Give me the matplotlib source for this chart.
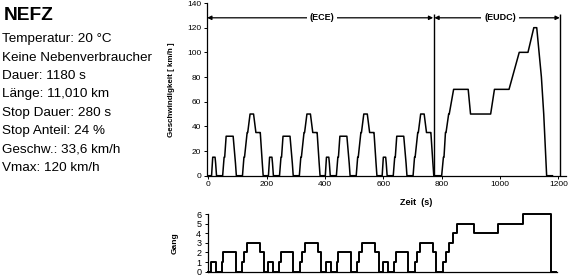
import numpy as np
import matplotlib
matplotlib.use("Agg")
import matplotlib.pyplot as plt

plt.rcParams['font.family'] = ['Liberation Sans', 'DejaVu Sans']

# ECE-Zyklus (wird 4x gefahren), Zeit relativ zum Zyklusbeginn
ece_t = [0, 11, 15, 23, 25, 28, 49, 54, 56, 61, 85, 93, 96, 117, 122, 124, 133, 135,
         143, 155, 163, 176, 178, 185, 188, 195]
ece_v = [0, 0, 15, 15, 10, 0, 0, 15, 15, 32, 32, 10, 0, 0, 15, 15, 35, 35,
         50, 50, 35, 35, 35, 10, 0, 0]
ece_len = 195
n_ece = 4

# EUDC, Zeit relativ zum EUDC-Beginn (780 s)
eudc_t = [0, 20, 26, 28, 33, 35, 44, 46, 61, 111, 119, 188, 201, 251, 286, 316, 336,
          346, 362, 370, 380, 400]
eudc_v = [0, 0, 15, 15, 35, 35, 50, 50, 70, 70, 50, 50, 70, 70, 100, 100, 120,
          120, 80, 50, 0, 0]

# Gang (Stufen, gilt ab dem Zeitpunkt)
ece_gear_t = [0, 11, 28, 49, 54, 96, 117, 124, 135, 178, 190, 195]
ece_gear = [0, 1, 0, 1, 2, 0, 1, 2, 3, 2, 0, 0]
eudc_gear_t = [0, 20, 28, 39, 51, 65, 122, 206, 291, 385, 400]
eudc_gear = [0, 1, 2, 3, 4, 5, 4, 5, 6, 0, 0]

info = ["Temperatur: 20 °C", "Keine Nebenverbraucher", "Dauer: 1180 s",
        "Länge: 11,010 km", "Stop Dauer: 280 s", "Stop Anteil: 24 %",
        "Geschw.: 33,6 km/h", "Vmax: 120 km/h"]

# Zeitreihen zusammensetzen
t_speed, v_speed, t_gear, g_gear = [], [], [], []
for k in range(n_ece):
    t_speed += [t + k * ece_len for t in ece_t]
    v_speed += ece_v
    t_gear += [t + k * ece_len for t in ece_gear_t]
    g_gear += ece_gear
eudc_start = n_ece * ece_len
t_speed += [t + eudc_start for t in eudc_t]
v_speed += eudc_v
t_gear += [t + eudc_start for t in eudc_gear_t]
g_gear += eudc_gear

W, H = 568, 276
fig = plt.figure(figsize=(W / 100, H / 100), dpi=100)

def box(x0, y0, x1, y1):
    # pixel box (von oben gemessen) -> figure-Koordinaten
    return [x0 / W, 1 - y1 / H, (x1 - x0) / W, (y1 - y0) / H]

# Geschwindigkeit
ax = fig.add_axes(box(206.9, 3, 565.6, 175.7))
ax.plot(t_speed, v_speed, color='black', lw=1.1)
ax.set_xlim(-5, 1225)
ax.set_ylim(0, 140)
ax.set_xticks(range(0, 1201, 200))
ax.set_yticks(range(0, 141, 20))
for s in ['top', 'right']:
    ax.spines[s].set_visible(False)
for s in ['left', 'bottom']:
    ax.spines[s].set_linewidth(0.9)
ax.tick_params(labelsize=6, length=2, width=0.7, pad=2)
ax.set_ylabel("Geschwindigkeit [ km/h ]", fontsize=5.8, fontweight='bold')
ax.yaxis.set_label_coords(-0.089, 0.5)
ax.set_xlabel("Zeit  (s)", fontsize=6.5, fontweight='bold')
ax.xaxis.set_label_coords(0.583, -0.13)

# Abschnittsgrenzen und Pfeile
ax.vlines([773, 1207], 0, 131, color='black', lw=1.0)
arr = dict(arrowstyle='-|>', color='black', lw=0.9, mutation_scale=6,
           shrinkA=0, shrinkB=0)
ax.annotate('', xy=(-4, 128), xytext=(400, 128), arrowprops=arr)
ax.annotate('', xy=(771, 128), xytext=(400, 128), arrowprops=arr)
ax.annotate('', xy=(775, 128), xytext=(1000, 128), arrowprops=arr)
ax.annotate('', xy=(1205, 128), xytext=(1000, 128), arrowprops=arr)
tb = dict(facecolor='white', edgecolor='none', pad=2)
ax.text(390, 128, "(ECE)", ha='center', va='center', fontsize=6.5,
        fontweight='bold', bbox=tb)
ax.text(1000, 128, "(EUDC)", ha='center', va='center', fontsize=6.5,
        fontweight='bold', bbox=tb)

# Gang
ag = fig.add_axes(box(207.5, 214, 557, 271.7))
ag.step(t_gear, g_gear, where='post', color='black', lw=1.4, clip_on=False)
ag.set_xlim(0, 1185)
ag.set_ylim(0, 6)
ag.set_yticks(range(0, 7))
ag.set_xticks([])
for s in ['top', 'right']:
    ag.spines[s].set_visible(False)
for s in ['left', 'bottom']:
    ag.spines[s].set_linewidth(0.9)
ag.tick_params(labelsize=6.5, length=2, width=0.7, pad=2.5)
ag.set_ylabel("Gang", fontsize=6, fontweight='bold')
ag.yaxis.set_label_coords(-0.084, 0.5)

# Infotext links
fig.text(4 / W, 1 - 20 / H, "NEFZ", fontsize=13.8, fontweight='bold',
         va='baseline', ha='left')
for i, line in enumerate(info):
    y = 42.3 + i * 18.4
    fig.text(2 / W, 1 - y / H, line, fontsize=9.7, va='baseline', ha='left')

fig.savefig("out.png", dpi=100)
